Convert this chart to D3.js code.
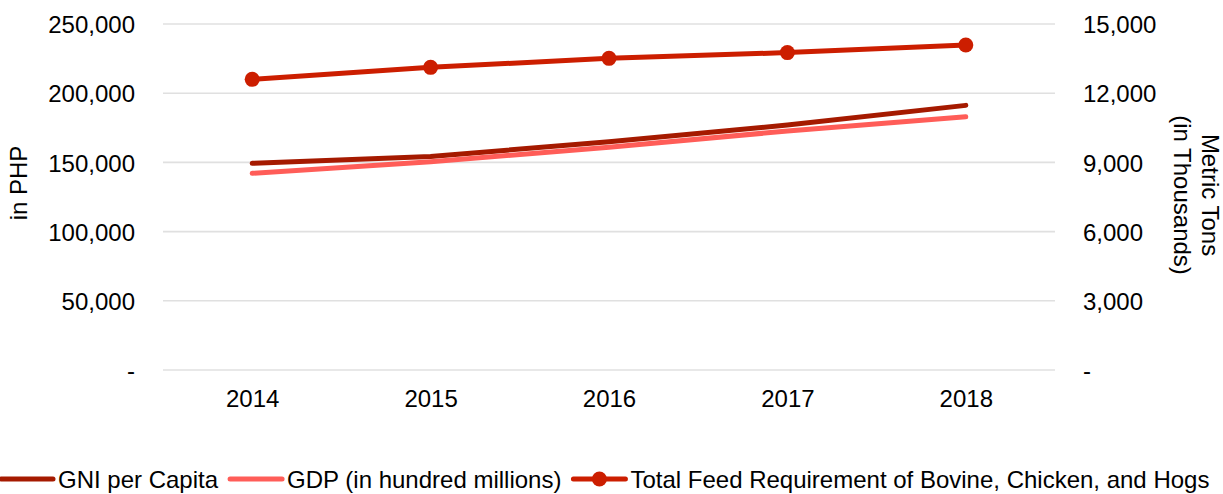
<!DOCTYPE html>
<html>
<head>
<meta charset="utf-8">
<script src="https://cdn.jsdelivr.net/npm/d3@7"></script>
<style>
  html, body { margin: 0; padding: 0; background: #fff; }
  svg { display: block; font-family: "Liberation Sans", Arial, sans-serif; }
</style>
</head>
<body>
<svg id="chart" width="1223" height="494"></svg>
<script>
// Years on the x axis
const years = ["2014", "2015", "2016", "2017", "2018"];
// Left axis series (in PHP)
const gniPerCapita = [149300, 154200, 165000, 177000, 191200];
const gdpHundredMillions = [142100, 150500, 160900, 172700, 182900];
// Right axis series (metric tons, in thousands)
const totalFeed = [12600, 13120, 13510, 13760, 14090];
// Tick values for both value axes
const leftTicks = [0, 50000, 100000, 150000, 200000, 250000];
const rightTicks = [0, 3000, 6000, 9000, 12000, 15000];

const seriesNames = ["GNI per Capita", "GDP (in hundred millions)", "Total Feed Requirement of Bovine, Chicken, and Hogs"];
const colors = { gni: "#a51a00", gdp: "#ff5d58", feed: "#cc1e00" };

const svg = d3.select("#chart");
const plot = { left: 163, right: 1055, top: 24, bottom: 370 };
const FONT = 24;

const x = d3.scalePoint().domain(years).range([plot.left, plot.right]).padding(0.5);
const yLeft = d3.scaleLinear().domain([0, 250000]).range([plot.bottom, plot.top]);
const yRight = d3.scaleLinear().domain([0, 15000]).range([plot.bottom, plot.top]);

const fmt = v => v === 0 ? "-" : d3.format(",")(v);

// Horizontal gridlines
svg.append("g")
  .selectAll("line")
  .data(leftTicks)
  .join("line")
  .attr("x1", plot.left).attr("x2", plot.right)
  .attr("y1", d => yLeft(d)).attr("y2", d => yLeft(d))
  .attr("stroke", "#e0e0e0").attr("stroke-width", 1.6);

// Left axis
const gLeft = svg.append("g")
  .attr("transform", `translate(${plot.left - 28},0)`)
  .call(d3.axisLeft(yLeft).tickValues(leftTicks).tickFormat(fmt).tickSize(0).tickPadding(0));
gLeft.select(".domain").remove();
gLeft.selectAll("text").attr("font-size", FONT).attr("fill", "#000").attr("font-family", "Liberation Sans, Arial, sans-serif").attr("dy", "0.36em");

// Right axis
const gRight = svg.append("g")
  .attr("transform", `translate(${plot.right + 28},0)`)
  .call(d3.axisRight(yRight).tickValues(rightTicks).tickFormat(fmt).tickSize(0).tickPadding(0));
gRight.select(".domain").remove();
gRight.selectAll("text").attr("font-size", FONT).attr("fill", "#000").attr("font-family", "Liberation Sans, Arial, sans-serif").attr("dy", "0.36em");

// Bottom axis
const gBottom = svg.append("g")
  .attr("transform", `translate(0,${plot.bottom})`)
  .call(d3.axisBottom(x).tickSize(0).tickPadding(0));
gBottom.select(".domain").remove();
gBottom.selectAll("text").attr("font-size", FONT).attr("fill", "#000").attr("font-family", "Liberation Sans, Arial, sans-serif").attr("dy", "1.55em");

// Axis titles
svg.append("text")
  .attr("transform", "translate(27,183) rotate(-90)")
  .attr("text-anchor", "middle")
  .attr("font-size", FONT)
  .text("in PHP");

const rt = svg.append("text")
  .attr("transform", "translate(1202,195) rotate(90)")
  .attr("text-anchor", "middle")
  .attr("font-size", FONT);
rt.append("tspan").attr("x", 0).attr("dy", 0).text("Metric Tons");
rt.append("tspan").attr("x", 0).attr("dy", "1.15em").text("(in Thousands)");

// Lines
const lineLeft = d3.line().x((d, i) => x(years[i])).y(d => yLeft(d));
const lineRight = d3.line().x((d, i) => x(years[i])).y(d => yRight(d));

svg.append("path").datum(gniPerCapita)
  .attr("d", lineLeft).attr("fill", "none")
  .attr("stroke", colors.gni).attr("stroke-width", 5)
  .attr("stroke-linecap", "round").attr("stroke-linejoin", "round");

svg.append("path").datum(gdpHundredMillions)
  .attr("d", lineLeft).attr("fill", "none")
  .attr("stroke", colors.gdp).attr("stroke-width", 5)
  .attr("stroke-linecap", "round").attr("stroke-linejoin", "round");

svg.append("path").datum(totalFeed)
  .attr("d", lineRight).attr("fill", "none")
  .attr("stroke", colors.feed).attr("stroke-width", 5)
  .attr("stroke-linecap", "round").attr("stroke-linejoin", "round");

svg.append("g").selectAll("circle")
  .data(totalFeed)
  .join("circle")
  .attr("cx", (d, i) => x(years[i]))
  .attr("cy", d => yRight(d))
  .attr("r", 7.5)
  .attr("fill", colors.feed);

// Legend
const legendItems = [
  { name: seriesNames[0], color: colors.gni, marker: false },
  { name: seriesNames[1], color: colors.gdp, marker: false },
  { name: seriesNames[2], color: colors.feed, marker: true }
];
const legendY = 479;
const lineLen = 52;
let lx = 1;
const legend = svg.append("g");
legendItems.forEach(item => {
  const g = legend.append("g");
  g.append("line")
    .attr("x1", lx).attr("x2", lx + lineLen)
    .attr("y1", legendY).attr("y2", legendY)
    .attr("stroke", item.color).attr("stroke-width", 5)
    .attr("stroke-linecap", "round");
  if (item.marker) {
    g.append("circle").attr("cx", lx + lineLen / 2).attr("cy", legendY).attr("r", 7.5).attr("fill", item.color);
  }
  const t = g.append("text")
    .attr("x", lx + lineLen + 5)
    .attr("y", legendY)
    .attr("dy", "0.36em")
    .attr("font-size", FONT)
    .attr("fill", "#000")
    .text(item.name);
  lx = lx + lineLen + 5 + t.node().getComputedTextLength() + 12;
});
</script>
</body>
</html>
